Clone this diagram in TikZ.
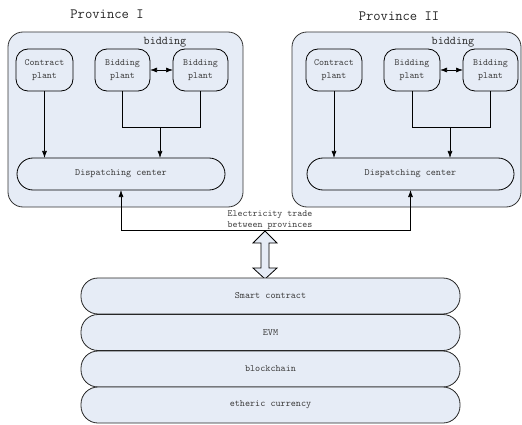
\documentclass[tikz,border=0pt]{standalone}
\usetikzlibrary{arrows.meta,calc}
\definecolor{boxfill}{RGB}{230,236,246}
\definecolor{txt}{RGB}{60,60,60}
\begin{document}
\begin{tikzpicture}[x=1pt,y=-1pt,
  every node/.style={inner sep=0pt,outer sep=0pt},
  region/.style={draw=black!80,fill=boxfill,line width=0.8pt,rounded corners=15pt},
  plantbox/.style={draw=black,line width=0.8pt,rounded corners=12pt,minimum height=42pt,minimum width=56pt,align=center,font=\ttfamily\fontsize{9.5}{13}\selectfont,text=txt},
  pill/.style={draw=black,line width=0.8pt,rounded corners=16pt,minimum height=32pt,font=\ttfamily\fontsize{9.7}{11}\selectfont,text=txt},
  layer/.style={draw=black!85,fill=boxfill,line width=0.8pt,rounded corners=17pt,minimum height=36pt,minimum width=379pt,font=\ttfamily\fontsize{9.7}{11}\selectfont,text=txt},
  conn/.style={line width=0.7pt,-{Latex[length=7pt,width=5pt]}},
  dconn/.style={line width=0.7pt,{Latex[length=7pt,width=5pt]}-{Latex[length=7pt,width=5pt]}},
  title/.style={font=\ttfamily\fontsize{14.2}{16}\selectfont,text=black!85},
  sub/.style={font=\ttfamily\fontsize{11.8}{13}\selectfont,text=black!85}
]
\useasboundingbox (0,0) rectangle (522,425);

% Province boxes
\draw[region] (8,32) rectangle (243,207);
\draw[region] (292,32) rectangle (521,207);
\node[title] (t1) at (107,14) {Province I};
\node[title] (t2) at (399,16) {Province II};
\node[sub] (bd1) at (165,42) {bidding};
\node[sub] (bd2) at (453,42) {bidding};

% Province I
\node[plantbox,minimum width=57pt] (c1) at (44.5,70) {Contract\\plant};
\node[plantbox,minimum width=55pt] (b11) at (122.5,70) {Bidding\\plant};
\node[plantbox,minimum width=55pt] (b12) at (200.5,70) {Bidding\\plant};
\node[pill,minimum width=208pt] (d1) at (121,174) {Dispatching center};
\draw[dconn] (b11.east) -- (b12.west);
\draw[line width=0.7pt] (b11.south) |- (b12.south |- 0,127) -- (b12.south);
\coordinate (j1) at (160,127);
\draw[conn] (j1) -- (j1 |- d1.north);
\draw[conn] (c1.south) -- (c1.south |- d1.north);

% Province II
\node[plantbox,minimum width=56pt] (c2) at (334,70) {Contract\\plant};
\node[plantbox,minimum width=56pt] (b21) at (412,70) {Bidding\\plant};
\node[plantbox,minimum width=55pt] (b22) at (490.5,70) {Bidding\\plant};
\node[pill,minimum width=207pt] (d2) at (410.5,174) {Dispatching center};
\draw[dconn] (b21.east) -- (b22.west);
\draw[line width=0.7pt] (b21.south) |- (b22.south |- 0,127) -- (b22.south);
\coordinate (j2) at (450,127);
\draw[conn] (j2) -- (j2 |- d2.north);
\draw[conn] (c2.south) -- (c2.south |- d2.north);

% Between provinces
\coordinate (low) at (121,230);
\draw[dconn] (d1.south) -- (low) -| (d2.south);
\node[font=\ttfamily\fontsize{9.5}{11}\selectfont,text=txt,align=center] (et) at (270,220) {Electricity trade\\between provinces};

% Hollow double arrow
\coordinate (ha) at (265,231);
\coordinate (hb) at (265,279);
\draw[line width=0.8pt,fill=boxfill,line join=miter]
  (ha) -- (253,243) -- (261,243) -- (261,268) -- (253,268) -- (hb)
  -- (277,268) -- (269,268) -- (269,243) -- (277,243) -- cycle;

% Stack
\node[layer] (l1) at (270.5,296) {Smart contract};
\node[layer] (l2) at (270.5,332.5) {EVM};
\node[layer] (l3) at (270.5,369) {blockchain};
\node[layer] (l4) at (270.5,405) {etheric currency};
\end{tikzpicture}
\end{document}
